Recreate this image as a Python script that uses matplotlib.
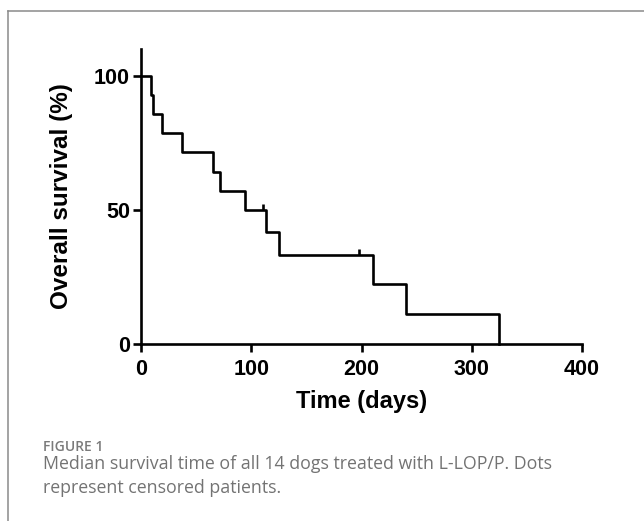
import matplotlib
matplotlib.use("Agg")
import matplotlib.pyplot as plt
from matplotlib.lines import Line2D
from matplotlib.path import Path

# Kaplan-Meier steps
times = [0, 9, 10.5, 19, 37, 65, 72, 94, 113, 125.5, 210.5, 240, 324.5]
survival = [100, 92.86, 85.71, 78.57, 71.43, 64.29, 57.14, 50, 41.67, 33.33, 22.22, 11.11, 0]
censor_times = [110.5, 197.5]
censor_surv = [50, 33.33]

x_ticks = [0, 100, 200, 300, 400]
y_ticks = [0, 50, 100]

W, H = 644, 521
fig = plt.figure(figsize=(W / 100, H / 100), dpi=100)

# outer frame of the figure panel (top + left only)
fig.add_artist(Line2D([8 / W, 1], [1 - 11 / H, 1 - 11 / H], color="#8a8a8a", lw=1.1))
fig.add_artist(Line2D([8 / W, 8 / W], [0, 1 - 11 / H], color="#8a8a8a", lw=1.1))

left, right = 141 / W, 582 / W
bottom, top = 1 - 344 / H, 1 - 49 / H
ax = fig.add_axes([left, bottom, right - left, top - bottom])

ax.step(times, survival, where="post", color="black", lw=1.9, clip_on=False, zorder=3)

tick_up = Path([(0, 0), (0, 1)])
ax.plot(censor_times, censor_surv, linestyle="none", marker=tick_up, markersize=8.6,
        markeredgewidth=1.9, color="black", clip_on=False, zorder=3)

ax.set_xlim(0, 400)
ax.set_ylim(0, 110)
ax.set_xticks(x_ticks)
ax.set_yticks(y_ticks)

for s in ["top", "right"]:
    ax.spines[s].set_visible(False)
for s in ["left", "bottom"]:
    ax.spines[s].set_linewidth(1.9)
ax.spines["left"].set_bounds(0, 110)

ax.tick_params(axis="both", width=1.9, length=6, direction="out")
ax.tick_params(axis="x", pad=5)
ax.tick_params(axis="y", pad=2)
for lab in ax.get_xticklabels() + ax.get_yticklabels():
    lab.set_fontfamily("Liberation Sans")
    lab.set_fontweight("bold")
    lab.set_fontsize(15.5)

ax.set_xlabel("Time (days)", fontsize=17, fontweight="bold", family="Liberation Sans")
ax.set_ylabel("Overall survival (%)", fontsize=17.5, fontweight="bold", family="Liberation Sans")
ax.xaxis.set_label_coords(0.5, -0.155)
ax.yaxis.set_label_coords(-0.154, 0.5)

# caption
fig.text(43 / W, 1 - 451 / H, "FIGURE 1", fontsize=10, color="#7a7a7a",
         family="Open Sans", fontweight="semibold", va="baseline")
fig.text(43 / W, 1 - 469 / H, "Median survival time of all 14 dogs treated with L-LOP/P. Dots",
         fontsize=12.8, color="#737373", family="Open Sans", va="baseline")
fig.text(43 / W, 1 - 493 / H, "represent censored patients.",
         fontsize=12.8, color="#737373", family="Open Sans", va="baseline")

fig.savefig("out.png", dpi=100)
